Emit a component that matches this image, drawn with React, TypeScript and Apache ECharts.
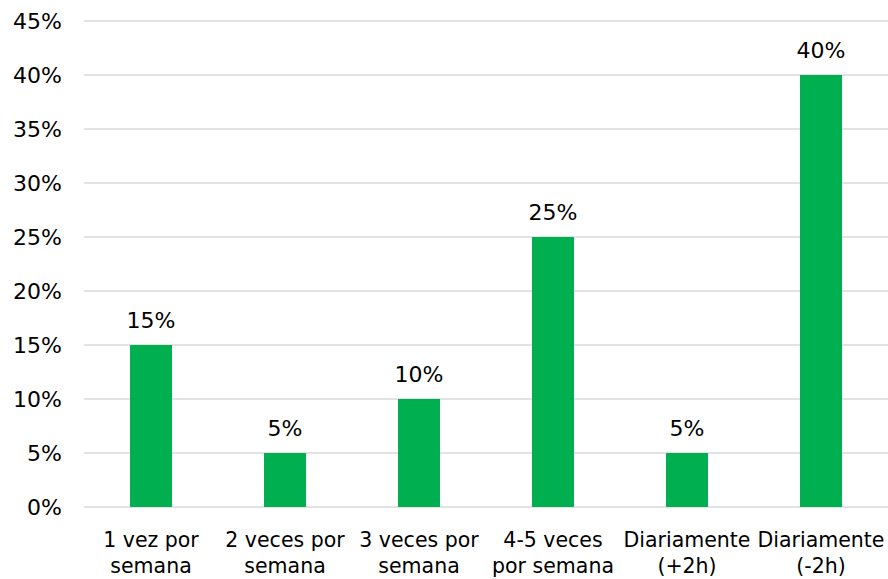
import React, { useEffect, useRef } from "react";
import * as echarts from "echarts";

const categories = [
  "1 vez por\nsemana",
  "2 veces por\nsemana",
  "3 veces por\nsemana",
  "4-5 veces\npor semana",
  "Diariamente\n(+2h)",
  "Diariamente\n(-2h)",
];
const values = [15, 5, 10, 25, 5, 40];
const yMin = 0;
const yMax = 45;
const yInterval = 5;

const FONT = "'Century Gothic', 'URW Gothic', 'DejaVu Sans', sans-serif";

export default function App() {
  const ref = useRef<HTMLDivElement>(null);
  useEffect(() => {
    if (!ref.current) return;
    const chart = echarts.init(ref.current, undefined, { renderer: "svg" });
    chart.setOption({
      animation: false,
      grid: { left: 84, right: 0, top: 21, bottom: 71.5, containLabel: false },
      xAxis: {
        type: "category",
        data: categories,
        axisLine: { show: false },
        axisTick: { show: false },
        axisLabel: {
          color: "#000",
          fontSize: 20.5,
          fontFamily: FONT,
          lineHeight: 26,
          margin: 20,
          interval: 0,
        },
      },
      yAxis: {
        type: "value",
        min: yMin,
        max: yMax,
        interval: yInterval,
        axisLine: { show: false },
        axisTick: { show: false },
        splitLine: { lineStyle: { color: "#d9d9d9", width: 1.5 } },
        axisLabel: {
          color: "#000",
          fontSize: 22,
          fontFamily: FONT,
          margin: 22,
          formatter: (v: number) => v + "%",
        },
      },
      series: [
        {
          type: "bar",
          data: values,
          barWidth: 42,
          itemStyle: { color: "#00B050" },
          label: {
            show: true,
            position: "top",
            distance: 14,
            color: "#000",
            fontSize: 22,
            fontFamily: FONT,
            formatter: (p: any) => p.value + "%",
          },
        },
      ],
    });
    return () => chart.dispose();
  }, []);
  return (
    <div
      ref={ref}
      style={{ position: "fixed", left: 0, top: 0, width: 888, height: 579, background: "#fff" }}
    />
  );
}
